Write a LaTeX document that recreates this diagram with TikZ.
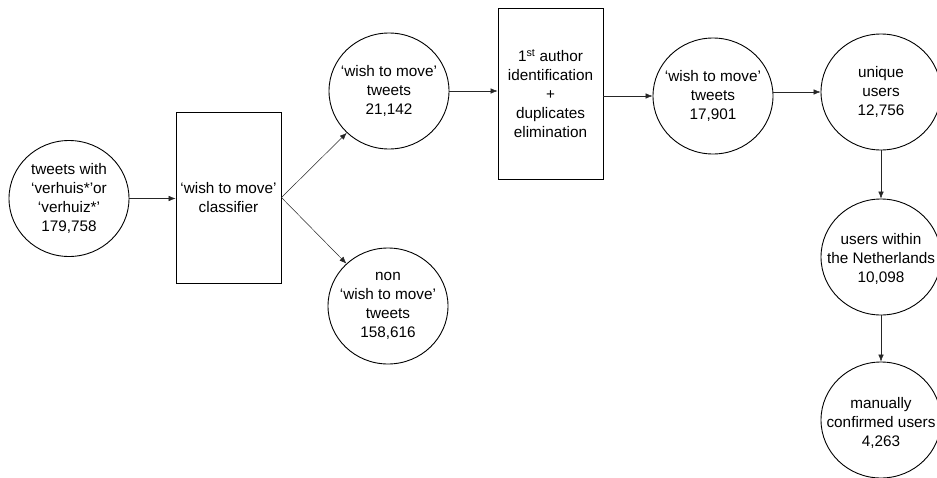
\documentclass[tikz,border=0pt]{standalone}
\usepackage{fontspec}
\setmainfont{Liberation Sans}
\usetikzlibrary{arrows.meta,shapes.geometric}
\begin{document}
\begin{tikzpicture}[x=1pt,y=-1pt,
  txt/.style={font=\fontsize{15.3}{19}\selectfont, align=center, inner sep=0pt},
  bubble/.style={ellipse, draw, line width=0.9pt, minimum width=120pt, minimum height=116pt, inner sep=0pt},
  procbox/.style={rectangle, draw, line width=0.9pt, minimum width=105pt, minimum height=171pt, inner sep=0pt},
  conn/.style={line width=0.5pt, draw=black!85, -{Latex[length=7pt,width=5.5pt]}}]
\useasboundingbox (0,0) rectangle (937,477);
% shapes
\node[bubble] (c1) at (69,198.5) {};
\node[procbox] (b1) at (228.5,197.5) {};
\node[bubble] (c2) at (389,91) {};
\node[bubble] (c3) at (388,306) {};
\node[procbox] (b2) at (550.5,93.5) {};
\node[bubble] (c4) at (713,96) {};
\node[bubble] (c5) at (881,92) {};
\node[bubble] (c6) at (881,257) {};
\node[bubble] (c7) at (881,420) {};
% texts
\node[txt] (t1) at (c1) {tweets with\\‘verhuis*’or\\‘verhuiz*’\\179,758};
\node[txt] (t2) at (b1) {‘wish to move’\\classifier};
\node[txt] (t3) at (c2) {‘wish to move’\\tweets\\21,142};
\node[txt] (t4) at (c3) {non\\‘wish to move’\\tweets\\158,616};
\node[txt] (t5) at (b2) {1\textsuperscript{st} author\\identification\\+\\duplicates\\elimination};
\node[txt] (t6) at (c4) {‘wish to move’\\tweets\\17,901};
\node[txt] (t7) at (c5) {unique\\users\\12,756};
\node[txt] (t8) at ([yshift=-2pt]c6) {users within\\the Netherlands\\10,098};
\node[txt] (t9) at ([yshift=-3pt]c7) {manually\\confirmed users\\4,263};
% connectors
\draw[conn] (c1.east) -- (c1.east -| b1.west);
\draw[conn] (b1.east) -- (c2);
\draw[conn] (b1.east) -- (c3);
\draw[conn] (c2.east) -- (c2.east -| b2.west);
\draw[conn] (c4.west -| b2.east) -- (c4.west);
\draw[conn] (c4.east |- c5.west) -- (c5.west);
\draw[conn] (c5.south) -- (c6.north);
\draw[conn] (c6.south) -- (c7.north);
\end{tikzpicture}
\end{document}
